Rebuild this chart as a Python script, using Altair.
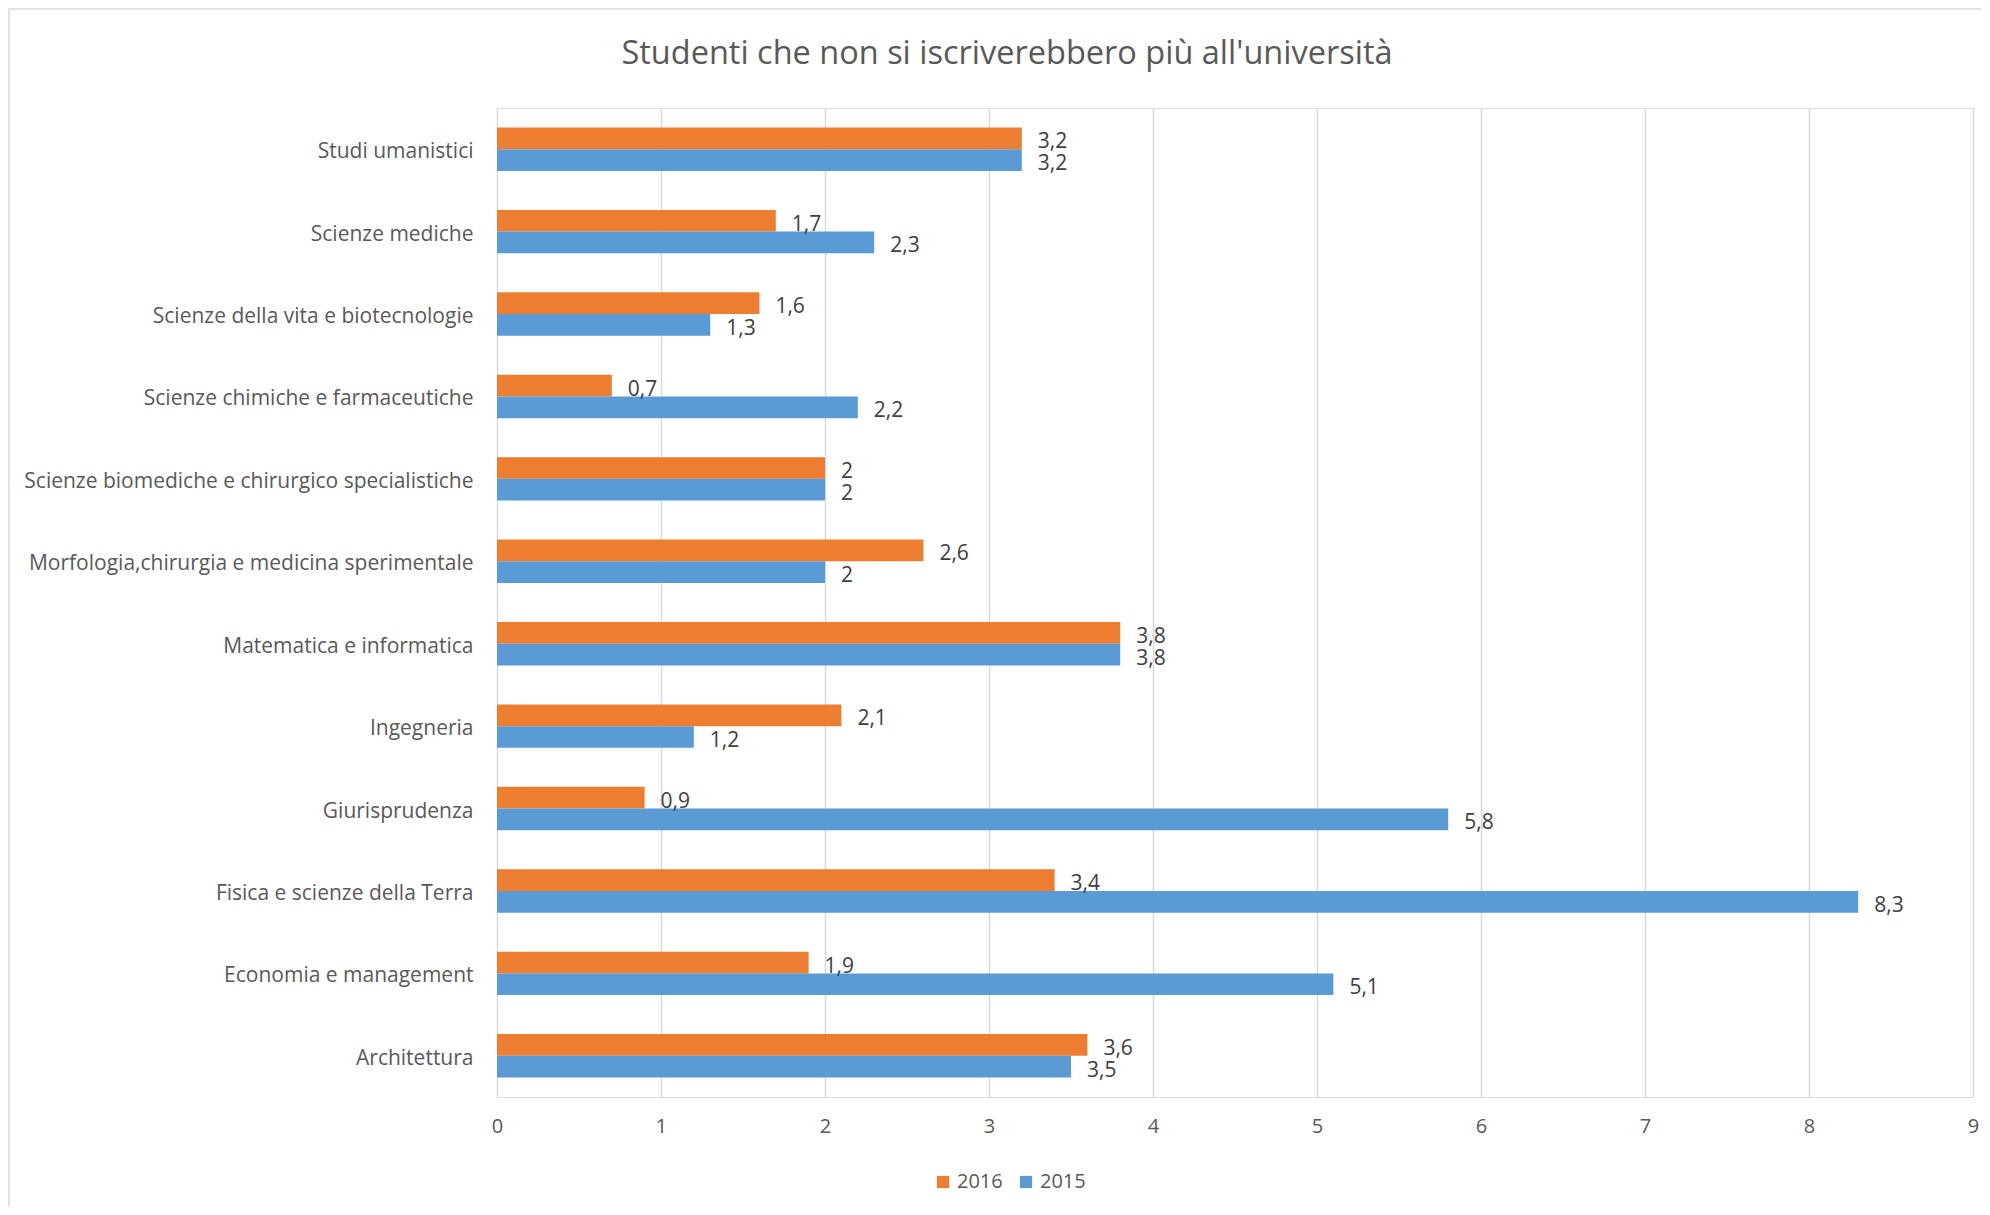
import altair as alt
import pandas as pd

title_text = "Studenti che non si iscriverebbero più all'università"
categories = [
    "Studi umanistici",
    "Scienze mediche",
    "Scienze della vita e biotecnologie",
    "Scienze chimiche e farmaceutiche",
    "Scienze biomediche e chirurgico specialistiche",
    "Morfologia,chirurgia e medicina sperimentale",
    "Matematica e informatica",
    "Ingegneria",
    "Giurisprudenza",
    "Fisica e scienze della Terra",
    "Economia e management",
    "Architettura",
]
values_2016 = [3.2, 1.7, 1.6, 0.7, 2, 2.6, 3.8, 2.1, 0.9, 3.4, 1.9, 3.6]
values_2015 = [3.2, 2.3, 1.3, 2.2, 2, 2, 3.8, 1.2, 5.8, 8.3, 5.1, 3.5]
years = ["2016", "2015"]
colors = ["#ED7D31", "#5B9BD5"]
x_ticks = [0, 1, 2, 3, 4, 5, 6, 7, 8, 9]


def fmt(v):
    return ("%g" % v).replace(".", ",")


rows = []
for c, a, b in zip(categories, values_2016, values_2015):
    rows.append({"cat": c, "year": "2016", "val": a, "lab": fmt(a)})
    rows.append({"cat": c, "year": "2015", "val": b, "lab": fmt(b)})
df = pd.DataFrame(rows)

TEXT = "#595959"
FONT = "Open Sans"

y_enc = alt.Y(
    "cat:N",
    sort=categories,
    title=None,
    scale=alt.Scale(paddingInner=0.473, paddingOuter=0.236),
    axis=alt.Axis(
        domain=False, ticks=False, labelPadding=24, labelFontSize=21,
        labelColor=TEXT, labelLimit=1000, grid=False, labelFont=FONT,
        labelOffset=3,
    ),
)
x_enc = alt.X(
    "val:Q",
    title=None,
    scale=alt.Scale(domain=[0, 9], nice=False),
    axis=alt.Axis(
        values=x_ticks, format="d", domain=False, ticks=False, tickSize=0,
        labelPadding=19, labelFontSize=20, labelColor=TEXT, grid=True,
        gridColor="#D9D9D9", gridWidth=1.5, labelFont=FONT, labelFlush=False,
    ),
)
yoff = alt.YOffset("year:N", sort=years, scale=alt.Scale(paddingInner=0, paddingOuter=0))

bars = alt.Chart(df).mark_bar().encode(
    x=x_enc,
    y=y_enc,
    yOffset=yoff,
    color=alt.Color(
        "year:N",
        scale=alt.Scale(domain=years, range=colors),
        title=None,
        legend=alt.Legend(
            orient="none", legendX=436, legendY=1064, direction="horizontal",
            symbolType="square", symbolSize=150, symbolStrokeWidth=0,
            labelFontSize=20, labelColor=TEXT, labelFont=FONT,
            columnPadding=13, labelOffset=4, padding=0,
        ),
    ),
)

labels = alt.Chart(df).mark_text(
    align="left", baseline="middle", dx=16, dy=4, fontSize=21, color="#404040", font=FONT
).encode(
    x=alt.X("val:Q"),
    y=alt.Y("cat:N", sort=categories),
    yOffset=yoff,
    text="lab:N",
)

frame = alt.Chart(pd.DataFrame({"k": [0]})).mark_rect(
    fill=None, stroke="#D9D9D9", strokeWidth=1.5
).encode(
    x=alt.value(-488), x2=alt.value(2200), y=alt.value(-99), y2=alt.value(1300)
)

title = alt.Chart(pd.DataFrame({"t": [title_text]})).mark_text(
    align="center", baseline="middle", fontSize=32.5, color=TEXT, font=FONT
).encode(
    x=alt.value(510), y=alt.value(-54), text="t:N"
)

chart = alt.layer(frame, bars, labels, title).properties(
    width=1476,
    height=989,
    padding={"left": 489, "top": 100, "right": 8, "bottom": 110},
    autosize=alt.AutoSizeParams(type="none"),
).configure_view(stroke=None).configure(font=FONT)

chart.save("out.html", embed_options={"renderer": "svg", "actions": False})
